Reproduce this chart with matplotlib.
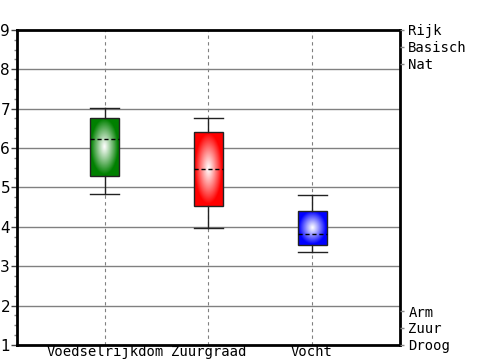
import matplotlib
matplotlib.use("Agg")
import matplotlib.pyplot as plt
import numpy as np
from matplotlib.colors import to_rgb

categories = ["Voedselrijkdom", "Zuurgraad", "Vocht"]
whisker_low = [4.84, 3.97, 3.37]
q1 = [5.29, 4.53, 3.54]
median = [6.23, 5.47, 3.82]
q3 = [6.77, 6.41, 4.41]
whisker_high = [7.02, 6.77, 4.81]
box_colors = ["#008000", "#ff0000", "#0000ff"]

right_top_labels = ["Rijk", "Basisch", "Nat"]
right_bottom_labels = ["Arm", "Zuur", "Droog"]

MONO = "DejaVu Sans Mono"


def gradient_image(color, n=80):
    """Radial gradient: white in the centre, full colour towards the edge."""
    y, x = np.mgrid[-1:1:n * 1j, -1:1:n * 1j]
    r = np.sqrt(x ** 2 + y ** 2)
    t = np.clip(r / 0.95, 0, 1) ** 1.1
    c = np.array(to_rgb(color))
    img = (1 - t)[..., None] * np.ones(3) + t[..., None] * c
    return img


fig = plt.figure(figsize=(5, 3.6), dpi=100)
ax = fig.add_axes([0.034, 0.042, 0.766, 0.875])

positions = np.arange(1, len(categories) + 1)
stats = [
    dict(med=m, q1=a, q3=b, whislo=lo, whishi=hi, fliers=[], label=c)
    for c, lo, a, m, b, hi in zip(categories, whisker_low, q1, median, q3, whisker_high)
]
width = 0.28
bp = ax.bxp(
    stats,
    positions=positions,
    widths=width,
    patch_artist=True,
    showfliers=False,
    boxprops=dict(edgecolor="#222222", linewidth=1.0),
    whiskerprops=dict(color="#222222", linewidth=1.0),
    capprops=dict(color="#222222", linewidth=1.0),
    medianprops=dict(color="black", linestyle=(0, (3, 2)), linewidth=1.0),
    capwidths=width,
    zorder=3,
)

for patch, color, pos, a, b in zip(bp["boxes"], box_colors, positions, q1, q3):
    patch.set_facecolor("none")
    im = ax.imshow(
        gradient_image(color),
        extent=(pos - width / 2, pos + width / 2, a, b),
        aspect="auto",
        interpolation="bilinear",
        zorder=2.5,
    )
    im.set_clip_path(patch)

ax.set_xlim(0.15, 3.85)
ax.set_ylim(1, 9)

# grid
for y in range(2, 9):
    ax.axhline(y, color="#808080", linewidth=1.0, zorder=1)
for p in positions:
    ax.axvline(p, color="#808080", linewidth=0.8, linestyle=(0, (3, 3)), zorder=1)

ax.set_xticks(positions)
ax.set_xticklabels(categories, fontfamily=MONO, fontsize=10)
ax.tick_params(axis="x", length=0, pad=0)
ax.set_yticks(range(1, 10))
ax.set_yticklabels([str(v) for v in range(1, 10)], fontfamily="DejaVu Sans", fontsize=11)
ax.set_yticks(np.arange(1, 9.01, 0.25), minor=True)
ax.tick_params(axis="y", which="major", length=4, width=1, pad=1, color="#444444")
ax.tick_params(axis="y", which="minor", length=2, width=1, color="#888888")

for s in ax.spines.values():
    s.set_linewidth(2)
    s.set_color("black")

# right side labels
step = 0.43
ax2 = ax.twinx()
ax2.set_ylim(1, 9)
rpos = [9, 9 - step, 9 - 2 * step, 1 + 2 * step, 1 + step, 1]
ax2.set_yticks(rpos)
ax2.set_yticklabels(right_top_labels + right_bottom_labels, fontfamily=MONO, fontsize=10)
ax2.tick_params(axis="y", length=3, width=1, pad=3, color="#888888")
for s in ax2.spines.values():
    s.set_visible(False)

fig.savefig("out.png", dpi=100)
